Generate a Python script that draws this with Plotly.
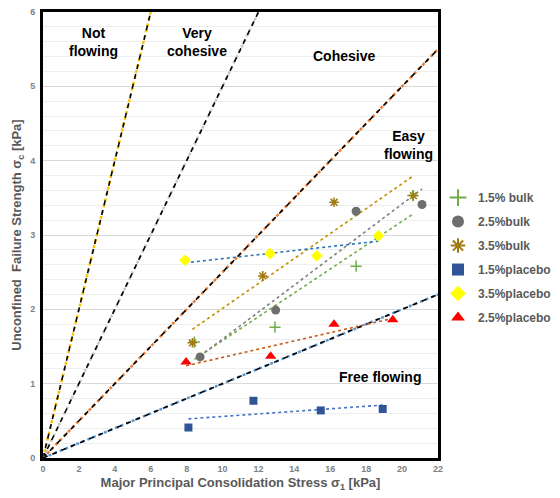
import numpy as np
import plotly.graph_objects as go

# ---- data ----
series_names = ["1.5% bulk", "2.5%bulk", "3.5%bulk", "1.5%placebo", "3.5%placebo", "2.5%placebo"]
bulk15_x = [8.43, 12.92, 17.44, 20.60]
bulk15_y = [1.56, 1.76, 2.58, 3.53]
bulk25_x = [8.75, 12.96, 17.44, 21.11]
bulk25_y = [1.36, 1.99, 3.32, 3.41]
bulk35_x = [8.32, 12.24, 16.21, 20.63]
bulk35_y = [1.55, 2.45, 3.44, 3.53]
plac15_x = [8.10, 11.72, 15.47, 18.92]
plac15_y = [0.41, 0.77, 0.64, 0.66]
plac35_x = [7.91, 12.65, 15.25, 18.68]
plac35_y = [2.66, 2.75, 2.72, 2.99]
plac25_x = [7.97, 12.68, 16.21, 19.48]
plac25_y = [1.29, 1.37, 1.80, 1.86]

ffc_values = [1, 2, 4, 10]
ffc_colors = ["#FFC000", "#C8C8C8", "#ED7D31", "#5B9BD5"]

region_labels = ["Not<br>flowing", "Very<br>cohesive", "Cohesive", "Easy<br>flowing", "Free flowing"]
region_x = [2.79, 8.58, 16.75, 20.33, 18.77]
region_y = [5.6, 5.6, 5.41, 4.21, 1.09]

x_ticks = list(range(0, 23, 2))
y_ticks = list(range(0, 7))

FONT = "Liberation Sans, Arial, sans-serif"
GRAY = "#595959"
TICKGRAY = "#7F7F7F"

fig = go.Figure()

# flow function reference lines
for ffc, col in zip(ffc_values, ffc_colors):
    xe = min(22, 6 * ffc)
    xs = np.array([0, xe], dtype=float)
    ys = xs / ffc
    fig.add_trace(go.Scatter(x=xs, y=ys, mode="lines", showlegend=False, hoverinfo="skip",
                             line=dict(color=col, width=2.5, dash="dot")))
    fig.add_trace(go.Scatter(x=xs, y=ys, mode="lines", showlegend=False, hoverinfo="skip",
                             line=dict(color="black", width=1.6, dash="5px,5px")))

series = [
    (bulk15_x, bulk15_y, dict(symbol="cross-thin", size=8, color="#70AD47", line=dict(color="#70AD47", width=1.5)), "#70AD47"),
    (bulk25_x, bulk25_y, dict(symbol="circle", size=9, color="#6E6E6E"), "#7F7F7F"),
    (bulk35_x, bulk35_y, dict(symbol="asterisk-open", size=8, color="#A07A10", line=dict(color="#A07A10", width=1.5)), "#C09000"),
    (plac15_x, plac15_y, dict(symbol="square", size=8, color="#2F5597"), "#4472C4"),
    (plac35_x, plac35_y, dict(symbol="diamond", size=9, color="#FFFF00"), "#2E75B6"),
    (plac25_x, plac25_y, dict(symbol="triangle-up", size=10, color="#FF0000"), "#C55A11"),
]

# trendlines (linear least squares, as in spreadsheet)
for xs, ys, mk, tcol in series:
    xa = np.array(xs); ya = np.array(ys)
    m, b = np.polyfit(xa, ya, 1)
    tx = np.array([xa.min(), xa.max()])
    fig.add_trace(go.Scatter(x=tx, y=m * tx + b, mode="lines", showlegend=False, hoverinfo="skip",
                             line=dict(color=tcol, width=1.6, dash="dot")))

for i, ((xs, ys, mk, tcol), name) in enumerate(zip(series, series_names)):
    fig.add_trace(go.Scatter(x=xs, y=ys, mode="markers", name=name, marker=mk, legendgroup=f"g{i}"))

for t, x, y in zip(region_labels, region_x, region_y):
    fig.add_annotation(x=x, y=y, text=t, showarrow=False,
                       font=dict(family=FONT, size=14, color="black", weight="bold"))

fig.update_layout(
    width=560, height=498,
    margin=dict(l=35, r=130, t=4, b=48, autoexpand=False),
    paper_bgcolor="white", plot_bgcolor="white",
    font=dict(family=FONT, color=GRAY),
    legend=dict(x=1.0, y=0.6165, xanchor="left", yanchor="top",
                font=dict(family=FONT, size=12, color=GRAY, weight="bold"),
                tracegroupgap=5, itemsizing="constant", bgcolor="rgba(0,0,0,0)"),
    showlegend=True,
)
fig.update_xaxes(range=[0, 22], tickvals=x_ticks, showgrid=False, zeroline=False,
                 showline=True, linecolor="black", linewidth=3, mirror=True,
                 ticks="", ticklabeloverflow="allow",
                 tickfont=dict(family=FONT, size=9, color=TICKGRAY, weight="bold"),
                 title=dict(text="Major Principal Consolidation Stress σ<sub>1</sub> [kPa]",
                            font=dict(family=FONT, size=13, color=GRAY, weight="bold"), standoff=6))
fig.update_yaxes(range=[0, 6], tickvals=y_ticks, showgrid=True, gridcolor="#D9D9D9", gridwidth=1,
                 minor=dict(dtick=0.2, showgrid=True, gridcolor="#EEEEEE", gridwidth=1),
                 zeroline=False, showline=True, linecolor="black", linewidth=3, mirror=True,
                 ticks="", ticklabeloverflow="allow", ticklabelstandoff=3,
                 tickfont=dict(family=FONT, size=9, color=TICKGRAY, weight="bold"),
                 title=dict(text="Unconfined  Failure Strength σ<sub>c</sub> [kPa]",
                            font=dict(family=FONT, size=13, color=GRAY, weight="bold"), standoff=6))

fig.write_html("out.html")
